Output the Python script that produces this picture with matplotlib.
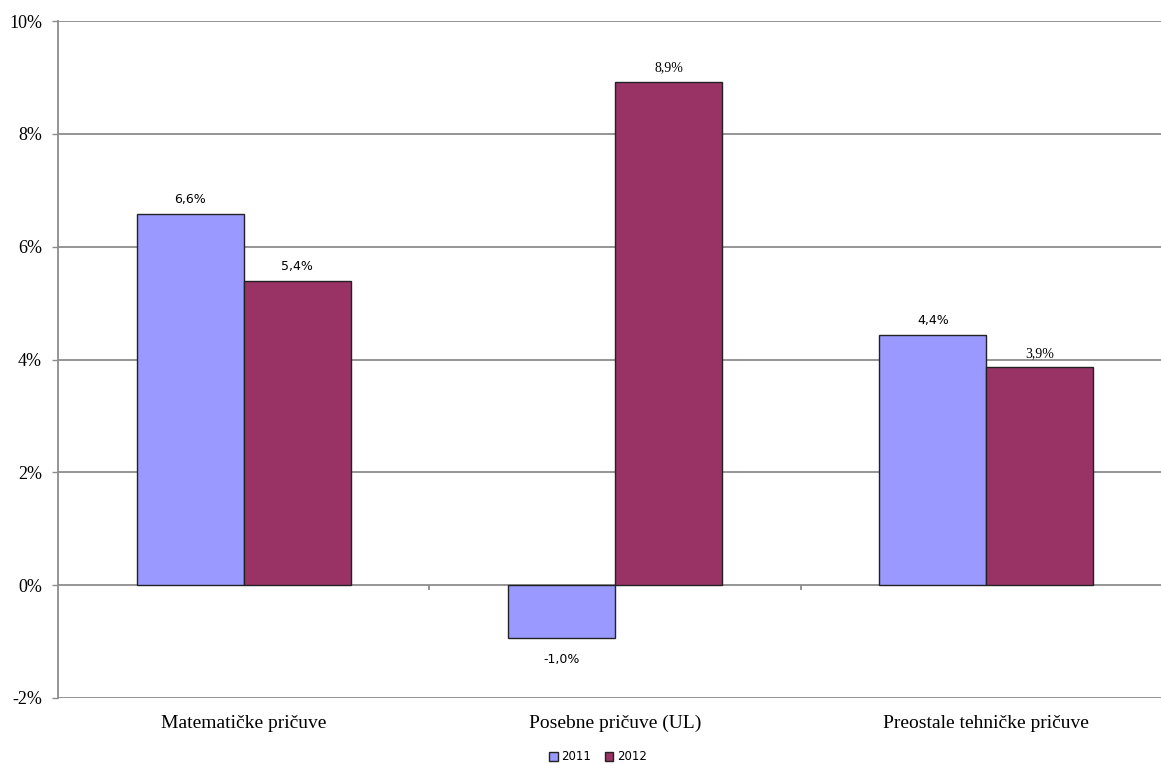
import matplotlib.pyplot as plt
import numpy as np

categories = ['Matematičke pričuve', 'Posebne pričuve (UL)', 'Preostale tehničke pričuve']
years = ['2011', '2012']
v2011 = [6.58, -0.94, 4.44]
v2012 = [5.39, 8.92, 3.86]
lab2011 = ['6,6%', '-1,0%', '4,4%']
lab2012 = ['5,4%', '8,9%', '3,9%']
yticks = [-2, 0, 2, 4, 6, 8, 10]

colors = ['#9999FF', '#993366']
grid = '#8c8c8c'

fig = plt.figure(figsize=(11.61, 7.64), dpi=100)
# plot area runs a little past the right edge, like the original crop
ax = fig.add_axes([58 / 1161, 66 / 764, 1114 / 1161, 677 / 764])

x = np.arange(len(categories))
w = 0.288
b1 = ax.bar(x - w / 2, v2011, w, color=colors[0], edgecolor='#222222', linewidth=1, label=years[0], zorder=3)
b2 = ax.bar(x + w / 2, v2012, w, color=colors[1], edgecolor='#222222', linewidth=1, label=years[1], zorder=3)

ax.set_xlim(-0.5, len(categories) - 0.5)
ax.set_ylim(-2, 10)
ax.set_yticks(yticks)
ax.set_yticklabels([f'{t}%' for t in yticks], family='Liberation Serif', fontsize=13)
ax.set_xticks(x)
ax.set_xticklabels(categories, family='Liberation Serif', fontsize=14)
ax.tick_params(axis='x', length=0, pad=12)
ax.tick_params(axis='y', length=4.5, width=1, color=grid, pad=7)

ax.yaxis.grid(True, color=grid, linewidth=1.3, zorder=0)
for s in ['top', 'right', 'bottom']:
    ax.spines[s].set_visible(False)
ax.spines['left'].set_color(grid)
ax.spines['left'].set_linewidth(1.3)

# category separator ticks on the zero line
ax.vlines(x[:-1] + 0.5, -0.09, 0, color=grid, linewidth=1.3, zorder=2)

# value labels (original mixes fonts)
fonts2011 = ['DejaVu Sans', 'DejaVu Sans', 'DejaVu Sans']
fonts2012 = ['DejaVu Sans', 'Liberation Serif', 'Liberation Serif']
for i in range(len(categories)):
    v = v2011[i]
    off = 0.25 if v >= 0 else -0.37
    fs = 9 if fonts2011[i] == 'DejaVu Sans' else 10
    ax.text(x[i] - w / 2, v + off, lab2011[i], ha='center', va='center', fontsize=fs, family=fonts2011[i])
    v = v2012[i]
    fs = 9 if fonts2012[i] == 'DejaVu Sans' else 10
    ax.text(x[i] + w / 2, v + 0.25, lab2012[i], ha='center', va='center', fontsize=fs, family=fonts2012[i])

leg = fig.legend(handles=[b1, b2], labels=years, loc='center', bbox_to_anchor=(598 / 1161, 7 / 764),
                 ncol=2, frameon=False, prop={'family': 'DejaVu Sans', 'size': 8.5},
                 handlelength=0.7, handleheight=0.7, handletextpad=0.3, columnspacing=1.2, borderpad=0)

fig.savefig('out.png', dpi=100)
